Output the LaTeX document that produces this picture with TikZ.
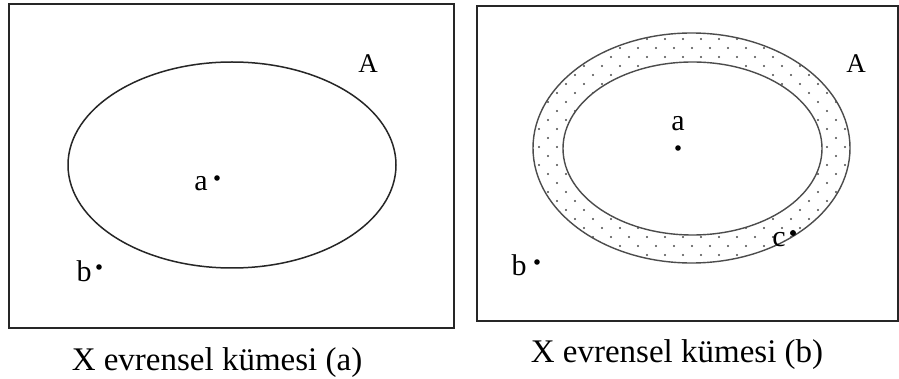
\documentclass[tikz,border=0pt]{standalone}
\usepackage{fontspec}
\setmainfont{Liberation Serif}
\begin{document}
\begin{tikzpicture}[x=1pt,y=-1pt,
  frame/.style={draw=black!85,line width=2pt},
  setline/.style={draw=black!85,line width=1.5pt},
  ringline/.style={draw=black!70,line width=1.4pt},
  lbl/.style={inner sep=0pt,font=\fontsize{30}{30}\selectfont},
  biglbl/.style={inner sep=0pt,font=\fontsize{27}{27}\selectfont},
  captxt/.style={inner sep=0pt,anchor=base,font=\fontsize{33}{34}\selectfont},
  pt/.style={fill=black},
  dotc/.style={fill=black!70}]
\useasboundingbox (0,0) rectangle (899,379);
\fill[white] (0,0) rectangle (899,379);
% left panel
\draw[frame] (9,4) rectangle (454,328);
\draw[setline] (232,165) ellipse [x radius=164, y radius=103];
\node[biglbl] (A1) at (368,64) {A};
\node[lbl] (a1) at (201,184) {a};
\fill[pt] (217,178) circle [radius=2.8];
\node[lbl] (b1) at (84,271) {b};
\fill[pt] (99,267) circle [radius=2.8];
\node[captxt] (c1) at (217,370) {X evrensel kümesi (a)};
% right panel
\draw[frame] (477,6) rectangle (898,321);
\begin{scope}
  \clip (691.5,148) ellipse [x radius=158.5, y radius=115];
  \foreach \i in {0,...,27} {
    \pgfmathsetmacro\yy{30+9*\i}
    \pgfmathsetmacro\xo{530+9*mod(\i,2)}
    \foreach \j in {0,...,18} {
      \fill[dotc] (\xo+18*\j,\yy) circle [radius=1.15];
    }
  }
\end{scope}
\fill[white] (692.5,148.5) ellipse [x radius=129.5, y radius=86.5];
\draw[ringline] (691.5,148) ellipse [x radius=158.5, y radius=115];
\draw[ringline] (692.5,148.5) ellipse [x radius=129.5, y radius=86.5];
\node[biglbl] (A2) at (856,64) {A};
\node[lbl] (a2) at (678,124) {a};
\fill[pt] (678,148) circle [radius=2.8];
\node[lbl] (b2) at (519,265) {b};
\fill[pt] (537,262) circle [radius=2.8];
\node[lbl] (c2) at (779,240) {c};
\fill[pt] (793,233) circle [radius=3];
\node[captxt] (c2cap) at (677,362) {X evrensel kümesi (b)};
\end{tikzpicture}
\end{document}
